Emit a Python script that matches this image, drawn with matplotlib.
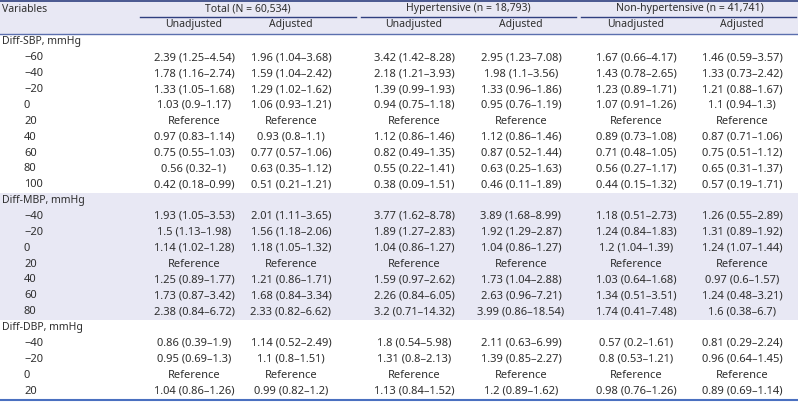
import matplotlib
matplotlib.use("Agg")
import matplotlib.pyplot as plt
from matplotlib.patches import Rectangle

plt.rcParams['font.family'] = ['Noto Sans', 'DejaVu Sans']

groups = ["Total (N = 60,534)", "Hypertensive (n = 18,793)", "Non-hypertensive (n = 41,741)"]
subcols = ["Unadjusted", "Adjusted"]

sbp_labels = ["−60", "−40", "−20", "0", "20", "40", "60", "80", "100"]
sbp_total_unadj = ["2.39 (1.25–4.54)", "1.78 (1.16–2.74)", "1.33 (1.05–1.68)", "1.03 (0.9–1.17)", "Reference",
                   "0.97 (0.83–1.14)", "0.75 (0.55–1.03)", "0.56 (0.32–1)", "0.42 (0.18–0.99)"]
sbp_total_adj = ["1.96 (1.04–3.68)", "1.59 (1.04–2.42)", "1.29 (1.02–1.62)", "1.06 (0.93–1.21)", "Reference",
                 "0.93 (0.8–1.1)", "0.77 (0.57–1.06)", "0.63 (0.35–1.12)", "0.51 (0.21–1.21)"]
sbp_hyp_unadj = ["3.42 (1.42–8.28)", "2.18 (1.21–3.93)", "1.39 (0.99–1.93)", "0.94 (0.75–1.18)", "Reference",
                 "1.12 (0.86–1.46)", "0.82 (0.49–1.35)", "0.55 (0.22–1.41)", "0.38 (0.09–1.51)"]
sbp_hyp_adj = ["2.95 (1.23–7.08)", "1.98 (1.1–3.56)", "1.33 (0.96–1.86)", "0.95 (0.76–1.19)", "Reference",
               "1.12 (0.86–1.46)", "0.87 (0.52–1.44)", "0.63 (0.25–1.63)", "0.46 (0.11–1.89)"]
sbp_non_unadj = ["1.67 (0.66–4.17)", "1.43 (0.78–2.65)", "1.23 (0.89–1.71)", "1.07 (0.91–1.26)", "Reference",
                 "0.89 (0.73–1.08)", "0.71 (0.48–1.05)", "0.56 (0.27–1.17)", "0.44 (0.15–1.32)"]
sbp_non_adj = ["1.46 (0.59–3.57)", "1.33 (0.73–2.42)", "1.21 (0.88–1.67)", "1.1 (0.94–1.3)", "Reference",
               "0.87 (0.71–1.06)", "0.75 (0.51–1.12)", "0.65 (0.31–1.37)", "0.57 (0.19–1.71)"]

mbp_labels = ["−40", "−20", "0", "20", "40", "60", "80"]
mbp_total_unadj = ["1.93 (1.05–3.53)", "1.5 (1.13–1.98)", "1.14 (1.02–1.28)", "Reference",
                   "1.25 (0.89–1.77)", "1.73 (0.87–3.42)", "2.38 (0.84–6.72)"]
mbp_total_adj = ["2.01 (1.11–3.65)", "1.56 (1.18–2.06)", "1.18 (1.05–1.32)", "Reference",
                 "1.21 (0.86–1.71)", "1.68 (0.84–3.34)", "2.33 (0.82–6.62)"]
mbp_hyp_unadj = ["3.77 (1.62–8.78)", "1.89 (1.27–2.83)", "1.04 (0.86–1.27)", "Reference",
                 "1.59 (0.97–2.62)", "2.26 (0.84–6.05)", "3.2 (0.71–14.32)"]
mbp_hyp_adj = ["3.89 (1.68–8.99)", "1.92 (1.29–2.87)", "1.04 (0.86–1.27)", "Reference",
               "1.73 (1.04–2.88)", "2.63 (0.96–7.21)", "3.99 (0.86–18.54)"]
mbp_non_unadj = ["1.18 (0.51–2.73)", "1.24 (0.84–1.83)", "1.2 (1.04–1.39)", "Reference",
                 "1.03 (0.64–1.68)", "1.34 (0.51–3.51)", "1.74 (0.41–7.48)"]
mbp_non_adj = ["1.26 (0.55–2.89)", "1.31 (0.89–1.92)", "1.24 (1.07–1.44)", "Reference",
               "0.97 (0.6–1.57)", "1.24 (0.48–3.21)", "1.6 (0.38–6.7)"]

dbp_labels = ["−40", "−20", "0", "20"]
dbp_total_unadj = ["0.86 (0.39–1.9)", "0.95 (0.69–1.3)", "Reference", "1.04 (0.86–1.26)"]
dbp_total_adj = ["1.14 (0.52–2.49)", "1.1 (0.8–1.51)", "Reference", "0.99 (0.82–1.2)"]
dbp_hyp_unadj = ["1.8 (0.54–5.98)", "1.31 (0.8–2.13)", "Reference", "1.13 (0.84–1.52)"]
dbp_hyp_adj = ["2.11 (0.63–6.99)", "1.39 (0.85–2.27)", "Reference", "1.2 (0.89–1.62)"]
dbp_non_unadj = ["0.57 (0.2–1.61)", "0.8 (0.53–1.21)", "Reference", "0.98 (0.76–1.26)"]
dbp_non_adj = ["0.81 (0.29–2.24)", "0.96 (0.64–1.45)", "Reference", "0.89 (0.69–1.14)"]

sections = [
    ("Diff-SBP, mmHg", sbp_labels, [sbp_total_unadj, sbp_total_adj, sbp_hyp_unadj, sbp_hyp_adj, sbp_non_unadj, sbp_non_adj], False),
    ("Diff-MBP, mmHg", mbp_labels, [mbp_total_unadj, mbp_total_adj, mbp_hyp_unadj, mbp_hyp_adj, mbp_non_unadj, mbp_non_adj], True),
    ("Diff-DBP, mmHg", dbp_labels, [dbp_total_unadj, dbp_total_adj, dbp_hyp_unadj, dbp_hyp_adj, dbp_non_unadj, dbp_non_adj], False),
]

W, H = 798, 403
fig = plt.figure(figsize=(W / 100, H / 100), dpi=100)
ax = fig.add_axes([0, 0, 1, 1])
ax.set_xlim(0, W)
ax.set_ylim(H, 0)
ax.axis("off")

txt = "#2e2e2e"
band = "#e8e8f4"
navy = "#2f3f7f"
blue = "#4a70c0"
fs = 7.5
fsv = 8.0

col_x = [194, 291, 414, 521, 636, 742]
group_x = [248, 468, 690]
group_lines = [(140, 356), (361, 576), (581, 796)]

header_h = 34
n_rows = sum(1 + len(s[1]) for s in sections)
row_h = (399 - header_h) / n_rows

# header background
ax.add_patch(Rectangle((0, 0), W, header_h, facecolor=band, edgecolor="none"))
ax.plot([0, W], [1, 1], color=navy, lw=1.2)
ax.plot([0, W], [header_h, header_h], color="#5b6fae", lw=1.0)
ax.text(2, 9, "Variables", ha="left", va="center", fontsize=fs, color=txt)
for g, gx, (x0, x1) in zip(groups, group_x, group_lines):
    ax.text(gx, 9, g, ha="center", va="center", fontsize=fs, color=txt)
    ax.plot([x0, x1], [16.5, 16.5], color=navy, lw=1.0)
for i, cx in enumerate(col_x):
    ax.text(cx, 25, subcols[i % 2], ha="center", va="center", fontsize=fs, color=txt)

r = 0
for title, labels, cols, shaded in sections:
    nsec = 1 + len(labels)
    if shaded:
        ax.add_patch(Rectangle((0, header_h + r * row_h), W, nsec * row_h, facecolor=band, edgecolor="none"))
    y = header_h + (r + 0.5) * row_h
    ax.text(2, y, title, ha="left", va="center", fontsize=fs, color=txt)
    r += 1
    for j, lab in enumerate(labels):
        y = header_h + (r + 0.5) * row_h
        ax.text(24, y, lab, ha="left", va="center", fontsize=fsv, color=txt)
        for cx, col in zip(col_x, cols):
            ax.text(cx, y, col[j], ha="center", va="center", fontsize=fsv, color=txt)
        r += 1

ax.plot([0, W], [400, 400], color=blue, lw=1.5)

fig.savefig("out.png", dpi=100)
